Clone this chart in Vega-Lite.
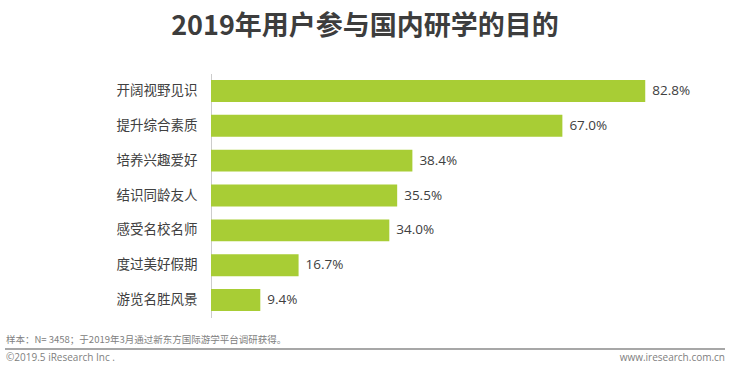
{
  "$schema": "https://vega.github.io/schema/vega-lite/v6.json",
  "autosize": "none",
  "width": 472,
  "height": 244,
  "padding": {"left": 211, "top": 73.5, "right": 47, "bottom": 49.5},
  "background": "white",
  "title": {
    "text": "2019年用户参与国内研学的目的",
    "font": "Noto Sans CJK SC",
    "fontSize": 27,
    "fontWeight": "bold",
    "color": "#3d3d3d",
    "anchor": "middle",
    "dx": -82,
    "offset": 33
  },
  "config": {
    "view": {"stroke": null},
    "font": "Open Sans, Noto Sans CJK SC"
  },
  "layer": [
    {
      "data": {"values": [
        {"purpose": "开阔视野见识", "share": 0.828},
        {"purpose": "提升综合素质", "share": 0.670},
        {"purpose": "培养兴趣爱好", "share": 0.384},
        {"purpose": "结识同龄友人", "share": 0.355},
        {"purpose": "感受名校名师", "share": 0.340},
        {"purpose": "度过美好假期", "share": 0.167},
        {"purpose": "游览名胜风景", "share": 0.094}
      ]},
      "encoding": {
        "y": {
          "field": "purpose", "type": "nominal", "sort": null,
          "scale": {"paddingInner": 0.37, "paddingOuter": 0.185},
          "axis": {
            "title": null, "ticks": false, "grid": false,
            "domainColor": "#cccccc", "domainWidth": 1,
            "labelFont": "Noto Sans CJK SC", "labelFontSize": 13.5,
            "labelColor": "#404040", "labelPadding": 14
          }
        },
        "x": {
          "field": "share", "type": "quantitative",
          "scale": {"domain": [0, 0.9]}, "axis": null
        }
      },
      "layer": [
        {"mark": {"type": "bar", "color": "#a8cd35"}},
        {
          "mark": {"type": "text", "align": "left", "dx": 7, "fontSize": 13.5, "color": "#404040", "font": "Open Sans"},
          "encoding": {"text": {"field": "share", "type": "quantitative", "format": ".1%"}}
        }
      ]
    },
    {
      "data": {"values": [{"note": "样本：N= 3458；于2019年3月通过新东方国际游学平台调研获得。", "copy": "©2019.5 iResearch Inc .", "site": "www.iresearch.com.cn"}]},
      "layer": [
        {
          "mark": {"type": "text", "align": "left", "baseline": "middle", "fontSize": 9.5, "color": "#808080", "font": "Noto Sans CJK SC"},
          "encoding": {"text": {"field": "note"}, "x": {"value": -205}, "y": {"value": 266.5}}
        },
        {
          "mark": {"type": "rule", "color": "#8a8a8a", "strokeWidth": 1.5},
          "encoding": {"x": {"value": -206}, "x2": {"value": 514}, "y": {"value": 275.5}}
        },
        {
          "mark": {"type": "text", "align": "left", "baseline": "middle", "fontSize": 10, "color": "#808080", "font": "Liberation Sans Narrow, Open Sans"},
          "encoding": {"text": {"field": "copy"}, "x": {"value": -205}, "y": {"value": 284.5}}
        },
        {
          "mark": {"type": "text", "align": "right", "baseline": "middle", "fontSize": 10, "color": "#808080", "font": "Liberation Sans Narrow, Open Sans"},
          "encoding": {"text": {"field": "site"}, "x": {"value": 514}, "y": {"value": 284.5}}
        }
      ]
    }
  ]
}
